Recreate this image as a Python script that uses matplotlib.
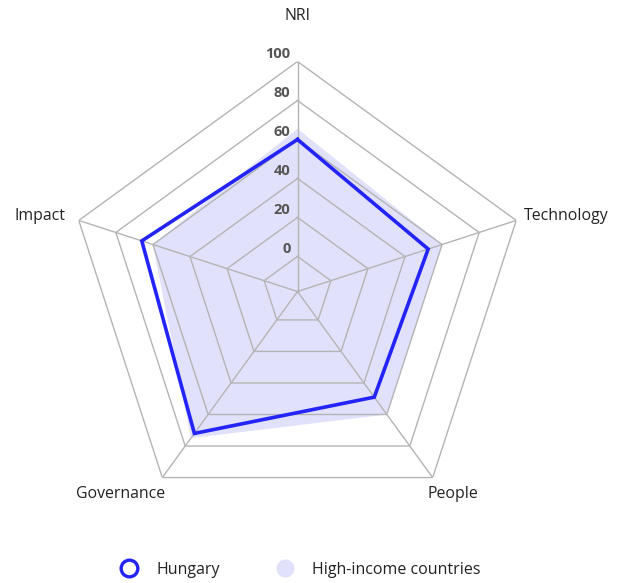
import numpy as np
import matplotlib.pyplot as plt
from matplotlib.lines import Line2D

plt.rcParams['font.family'] = ['Open Sans', 'DejaVu Sans']

categories = ["NRI", "Technology", "People", "Governance", "Impact"]
hungary = [60.0, 52.5, 49.0, 72.0, 66.0]
high_income = [65.5, 60.0, 60.0, 75.0, 60.0]
ring_values = [0, 20, 40, 60, 80, 100]
ring_labels = ["0", "20", "40", "60", "80", "100"]

R_MIN, R_MAX = -18, 100
W, H = 625, 583

fig = plt.figure(figsize=(W / 100, H / 100), dpi=100)
ax = fig.add_axes([0.108, 0.1055, 0.736, 0.789], projection='polar')
ax.set_theta_offset(np.pi / 2)
ax.set_theta_direction(-1)
ax.set_ylim(R_MIN, R_MAX)
ax.set_xticks([])
ax.set_yticks([])
ax.grid(False)
ax.spines['polar'].set_visible(False)
ax.patch.set_visible(False)

n = len(categories)
angles = np.linspace(0, 2 * np.pi, n, endpoint=False)
closed = np.concatenate([angles, angles[:1]])

grid_color = '#b4b4b4'
for v in ring_values:
    ax.plot(closed, [v] * (n + 1), color=grid_color, lw=1.0, zorder=1)
for a in angles:
    ax.plot([a, a], [R_MIN, R_MAX], color=grid_color, lw=1.0, zorder=1)

hi = np.concatenate([high_income, high_income[:1]])
ax.fill(closed, hi, color='#e1e1fb', lw=0, zorder=0.5)

hu = np.concatenate([hungary, hungary[:1]])
ax.plot(closed, hu, color='#2424f8', lw=2.6, zorder=3, solid_joinstyle='miter')

for v, lab in zip(ring_values, ring_labels):
    ax.annotate(lab, xy=(0, v), xytext=(-5, 5.5), textcoords='offset points',
                ha='right', va='center', fontsize=10.5, fontweight='bold',
                color='#555555', zorder=4)

label_pos = {
    "NRI": (298, 16),
    "Technology": (566, 216),
    "People": (453, 494),
    "Governance": (121, 494),
    "Impact": (40, 216),
}
for c in categories:
    x, y = label_pos[c]
    fig.text(x / W, 1 - y / H, c, ha='center', va='center', fontsize=11.4,
             color='#222222')

handles = [
    Line2D([], [], marker='o', ls='none', markersize=12, markerfacecolor='white',
           markeredgecolor='#2424f8', markeredgewidth=2.4),
    Line2D([], [], marker='o', ls='none', markersize=12, markerfacecolor='#e1e1fb',
           markeredgecolor='#e1e1fb'),
]
fig.legend(handles, ["Hungary", "High-income countries"], loc='center',
           bbox_to_anchor=(0.475, 1 - 570 / H), ncol=2, frameon=False,
           fontsize=11.5, handletextpad=0.7, columnspacing=3.1,
           labelcolor='#222222')

fig.savefig('out.png', dpi=100)
